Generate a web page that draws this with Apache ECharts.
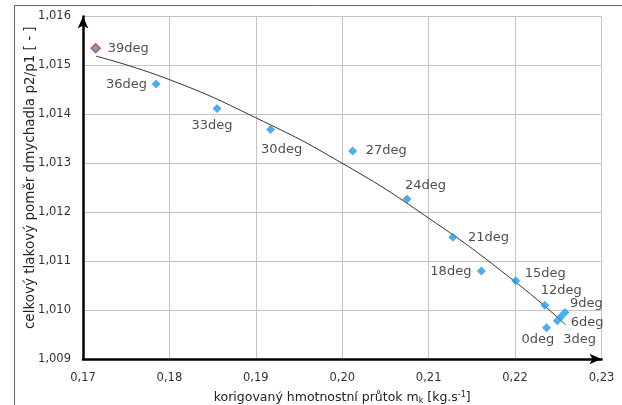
<!DOCTYPE html>
<html>
<head>
<meta charset="utf-8">
<script src="https://cdn.jsdelivr.net/npm/echarts@6/dist/echarts.min.js"></script>
<style>
html,body{margin:0;padding:0;background:#fff;}
#c{width:622px;height:405px;}
</style>
</head>
<body>
<div id="c"></div>
<script>
// ---- data ----
const pointNames = ['39deg','36deg','33deg','30deg','27deg','24deg','21deg','18deg','15deg','12deg','9deg','6deg','3deg','0deg'];
const massFlow   = [0.17147,0.17846,0.18551,0.19171,0.20121,0.20749,0.21281,0.21610,0.22008,0.22343,0.22577,0.22528,0.22489,0.22364];
const pressRatio = [1.01535,1.01462,1.01412,1.01369,1.01325,1.01227,1.01149,1.01080,1.01060,1.01010,1.00995,1.00986,1.00978,1.00964];
const trendX = [0.1715,0.18,0.19,0.20,0.21,0.22,0.22585];
const trendY = [1.01519,1.01471,1.01393,1.0130,1.01188,1.01058,1.00970];
const xTicks = [0.17,0.18,0.19,0.20,0.21,0.22,0.23];
const yTicks = [1.009,1.010,1.011,1.012,1.013,1.014,1.015,1.016];

// ---- label placement (style only): [dx, dy, align] ----
const labelPlace = [
  [12,0,'left'],[-9,1,'right'],[-5,17,'center'],[11,20,'center'],[13,0,'left'],
  [-2,-13,'left'],[15,0,'left'],[-10,1,'right'],[9,-7,'left'],[-4,-15,'left'],
  [5,-9,'left'],[10,6,'left'],[6,19,'left'],[-25,12,'left']
];

const FONT = 'DejaVu Sans';
const BLUE = '#1e9be8';

const scatterData = pointNames.map((n,i)=>{
  const lp = labelPlace[i];
  const item = {
    name: n,
    value: [massFlow[i], pressRatio[i]],
    label: {show:true, position:'inside', align: lp[2], verticalAlign:'middle', offset:[lp[0], lp[1]], formatter: n}
  };
  if (i === 0) item.itemStyle = {color: BLUE, borderColor:'#ff2020', borderWidth:1.5};
  return item;
});
const trendData = trendX.map((x,i)=>[x, trendY[i]]);

const chart = echarts.init(document.getElementById('c'), null, {renderer:'canvas'});
chart.setOption({
  animation:false,
  backgroundColor:'#fff',
  grid:{left:83, top:16.5, right:20.5, bottom:46, containLabel:false, outerBoundsMode:'none'},
  xAxis:{
    type:'value', min:xTicks[0], max:xTicks[xTicks.length-1], interval:0.01,
    name:'korigovaný hmotnostní průtok m{sub|k} [kg.s{sup|-1}]',
    nameLocation:'middle', nameGap:32, nameMoveOverlap:false,
    nameTextStyle:{fontFamily:FONT, fontSize:12.5, color:'#222',
      rich:{sub:{fontFamily:FONT,fontSize:8,color:'#222',verticalAlign:'bottom',padding:[6,0,0,0]},
            sup:{fontFamily:FONT,fontSize:8,color:'#222',verticalAlign:'top',padding:[0,0,6,0]}}},
    axisLine:{show:true, onZero:false, lineStyle:{color:'#000', width:2.5}, symbol:['none','arrow'], symbolSize:[8,12], symbolOffset:[0,0]},
    axisTick:{show:false},
    axisLabel:{fontFamily:FONT, fontSize:11.5, color:'#333', margin:13,
      formatter:v=>v.toFixed(2).replace('.',',')},
    splitLine:{show:true, lineStyle:{color:'#c4c4c4', width:1}}
  },
  yAxis:{
    type:'value', min:yTicks[0], max:yTicks[yTicks.length-1], interval:0.001,
    name:'celkový tlakový poměr dmychadla p2/p1 [ - ]',
    nameLocation:'middle', nameGap:46, nameRotate:90, nameMoveOverlap:false,
    nameTextStyle:{fontFamily:FONT, fontSize:13.5, color:'#222', padding:[0,0,0,20]},
    axisLine:{show:true, onZero:false, lineStyle:{color:'#000', width:2.5}, symbol:['none','arrow'], symbolSize:[8,12]},
    axisTick:{show:false},
    axisLabel:{fontFamily:FONT, fontSize:11.5, color:'#333', margin:12,
      formatter:v=>v.toFixed(3).replace('.',',')},
    splitLine:{show:true, lineStyle:{color:'#c4c4c4', width:1}}
  },
  series:[
    {
      type:'line', data:trendData, smooth:true, showSymbol:false, symbol:'none',
      lineStyle:{color:'#333', width:1}, z:2, silent:true
    },
    {
      type:'scatter', data:scatterData, symbol:'diamond', symbolSize:9,
      itemStyle:{color:BLUE},
      label:{fontFamily:FONT, fontSize:13, color:'#222'},
      z:3
    }
  ],
  graphic:[
    {type:'line', shape:{x1:14.5,y1:5.5,x2:622,y2:5.5}, style:{stroke:'#666', lineWidth:1}},
    {type:'line', shape:{x1:14.5,y1:5.5,x2:14.5,y2:405}, style:{stroke:'#666', lineWidth:1}}
  ]
});
</script>
</body>
</html>
